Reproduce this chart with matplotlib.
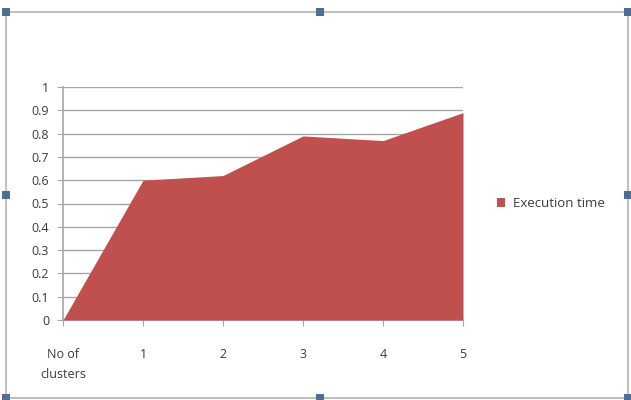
import numpy as np
import matplotlib.pyplot as plt
from matplotlib.patches import Rectangle

# execution time per number of clusters
categories = ['No of\nclusters', '1', '2', '3', '4', '5']
exec_time = [0, 0.60, 0.62, 0.79, 0.77, 0.89]
yticks = [0, 0.1, 0.2, 0.3, 0.4, 0.5, 0.6, 0.7, 0.8, 0.9, 1]
ytick_labels = ['0', '0.1', '0.2', '0.3', '0.4', '0.5', '0.6', '0.7', '0.8', '0.9', '1']

plt.rcParams['font.family'] = ['Open Sans', 'DejaVu Sans']

fig = plt.figure(figsize=(6.31, 4.0), dpi=100)
ax = fig.add_axes([63 / 631, 1 - 320 / 400, 400 / 631, 233 / 400])

x = np.arange(len(categories))
ax.fill_between(x, exec_time, 0, color='#C0504D', linewidth=0, zorder=3,
                label='Execution time')

ax.set_xlim(0, len(categories) - 1)
ax.set_ylim(0, 1)
ax.set_yticks(yticks)
ax.set_yticklabels(ytick_labels)
ax.set_xticks(x)
ax.set_xticklabels(categories, linespacing=1.7, va='top')
ax.grid(axis='y', color='#a6a6a6', linewidth=1)
ax.set_axisbelow(True)

for side in ['top', 'right']:
    ax.spines[side].set_visible(False)
for side in ['left', 'bottom']:
    ax.spines[side].set_color('#a6a6a6')
    ax.spines[side].set_linewidth(1.2)
ax.tick_params(axis='both', colors='#a6a6a6', length=4, labelsize=9,
               labelcolor='#3a3a3a')
ax.tick_params(axis='x', pad=16)
ax.tick_params(axis='y', pad=6)

ax.legend(loc='center left', bbox_to_anchor=(1.055, 0.5), frameon=False,
          fontsize=9.5, handlelength=0.6, handleheight=0.6, handletextpad=0.6,
          labelcolor='#3a3a3a')

# chart frame and selection handles
fig.add_artist(Rectangle((6 / 631, 2 / 400), 622 / 631, 386 / 400,
                         transform=fig.transFigure, fill=False,
                         edgecolor='#c0c0c0', linewidth=1.5))
handles = [(6, 388), (320, 388), (628, 388), (6, 205), (628, 205),
           (6, 2), (320, 2), (628, 2)]
for hx, hy in handles:
    fig.add_artist(Rectangle(((hx - 4) / 631, (hy - 4) / 400), 8 / 631, 8 / 400,
                             transform=fig.transFigure, facecolor='#4f6d95',
                             edgecolor='none'))

fig.savefig('out.png', dpi=100, facecolor='white')
